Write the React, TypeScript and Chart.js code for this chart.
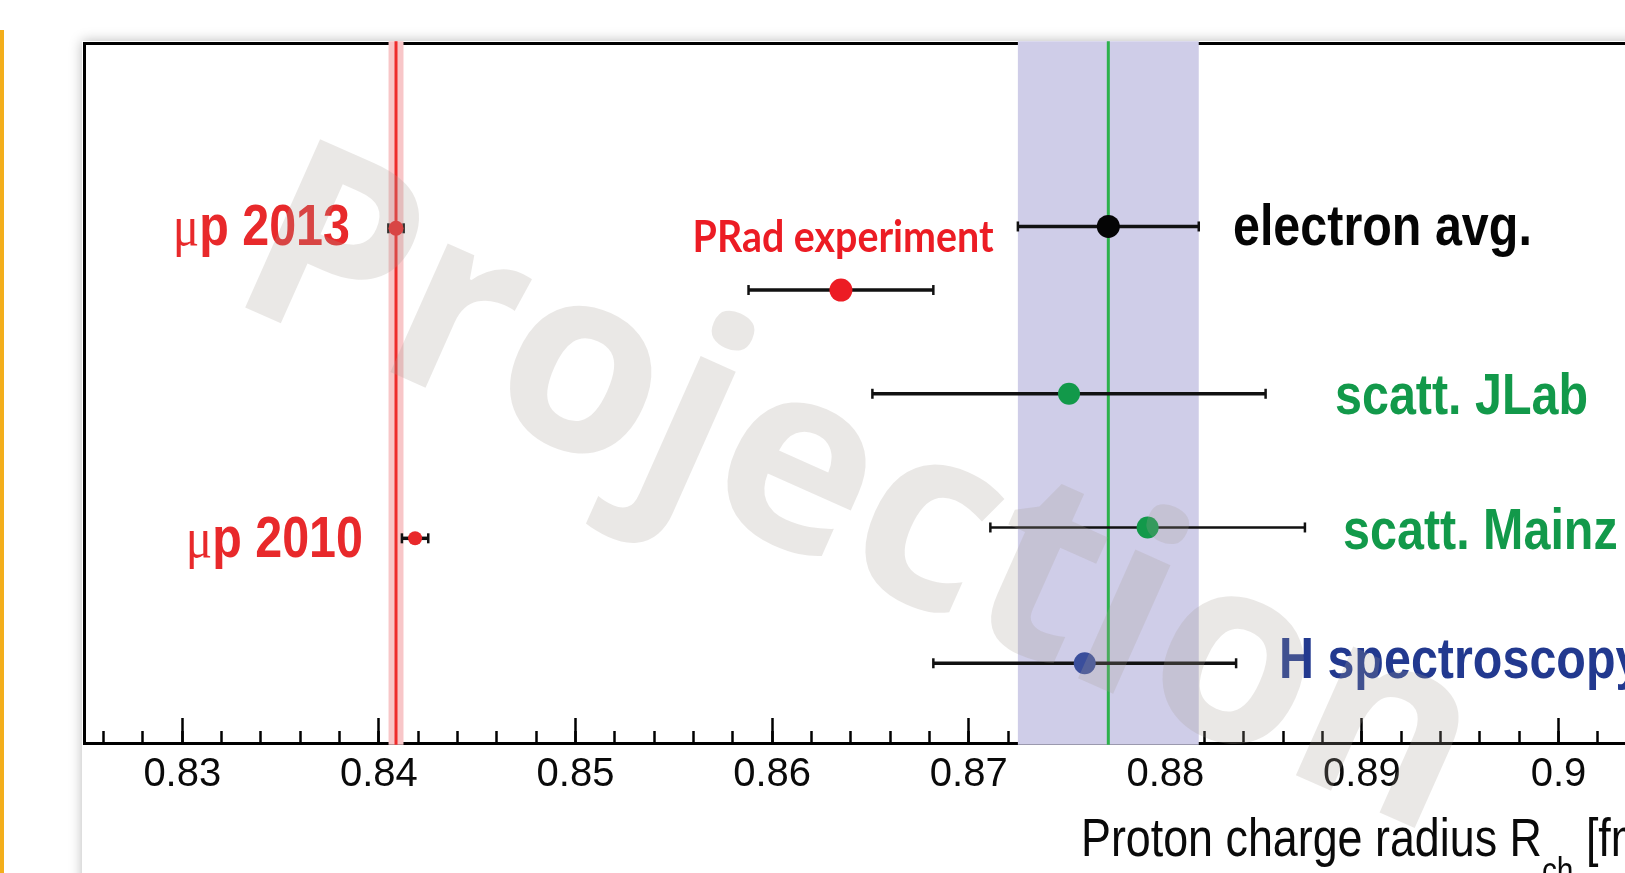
import React, { useEffect, useRef } from "react";
import { Chart, registerables } from "chart.js";

Chart.register(...registerables);

// ---------------- data ----------------
const measurementNames = [
  "μp 2013",
  "PRad experiment",
  "electron avg.",
  "scatt. JLab",
  "scatt. Mainz",
  "μp 2010",
  "H spectroscopy",
];
const radiusValues = [0.84087, 0.8635, 0.8771, 0.8751, 0.8791, 0.84184, 0.8759];
const radiusErrors = [0.00039, 0.0047, 0.0046, 0.01, 0.008, 0.00067, 0.0077];
const rowPositions = [73.53, 64.71, 73.79, 49.89, 30.79, 29.24, 11.39];

const bandNames = ["muonic hydrogen", "electron average"];
const bandCenters = [0.84087, 0.8771];
const bandHalfWidths = [0.00038, 0.0046];

const majorTickValues = [0.83, 0.84, 0.85, 0.86, 0.87, 0.88, 0.89, 0.9];
const majorTickLabels = ["0.83", "0.84", "0.85", "0.86", "0.87", "0.88", "0.89", "0.9"];
const minorTickStep = 0.002;
const axisRange = [0.825, 0.9075];
const rowRange = [0, 100];

const axisTitleParts = ["Proton charge radius R", "ch", " [fm]"];
const watermarkText = "Projection";

// ---------------- styles / layout ----------------
const pointColors = ["#e8292b", "#ec1c24", "#050505", "#12994a", "#12994a", "#e8292b", "#3a4e9c"];
const pointRadii = [7.5, 11.5, 11.5, 11, 11, 7, 11];
const errorBarWidths = [3.5, 3.5, 3.5, 3.5, 2.5, 3.5, 3.5];
const bandColors = ["#f8c6c8", "#cfcde8"];
const centerLineColors = ["#ee2b2b", "#2db14b"];
const labelColors = ["#e8292b", "#ec1c24", "#050505", "#12994a", "#12994a", "#e8292b", "#22398f"];

const labelAnchorX = [0.83853, 0.86361, 0.88344, 0.88863, 0.88904, 0.83919, 0.88578];
const labelAnchorY = [71.14, 70.14, 71.14, 47.0, 27.71, 26.57, 9.29];
const labelAlign = ["right", "center", "left", "left", "left", "right", "left"];
const BIG_FONT = "bold 57px 'Liberation Sans', Arial, sans-serif";
const MU_FONT = "58px 'Liberation Serif', 'Times New Roman', serif";
const labelFonts = [BIG_FONT, "bold 43px Lato, 'Noto Sans', sans-serif", BIG_FONT, BIG_FONT, BIG_FONT, BIG_FONT, BIG_FONT];
const labelFitWidths: (number | null)[] = [null, 301, null, null, null, null, null];
const TEXT_SCALE_X = 0.85;

const titleAnchorX = 0.87571;
const titleAnchorY = -16.14;

function hasFont(name: string): boolean {
  const c = document.createElement("canvas").getContext("2d");
  if (!c) return false;
  const s = "0.83 abcdefgMW";
  c.font = "40px monospace";
  const a = c.measureText(s).width;
  c.font = `40px '${name}', monospace`;
  const b = c.measureText(s).width;
  return Math.abs(a - b) > 0.5;
}

type Part = { text: string; font: string; dy?: number };

function drawParts(
  ctx: CanvasRenderingContext2D,
  parts: Part[],
  x: number,
  y: number,
  align: string,
  color: string,
  scaleX: number,
  fitWidth?: number | null
) {
  const raw = parts.map((p) => {
    ctx.font = p.font;
    return ctx.measureText(p.text).width;
  });
  const rawTotal = raw.reduce((a, b) => a + b, 0);
  const sx = fitWidth ? fitWidth / rawTotal : scaleX;
  const total = rawTotal * sx;
  let start = align === "left" ? x : align === "right" ? x - total : x - total / 2;
  parts.forEach((p, i) => {
    ctx.save();
    ctx.font = p.font;
    ctx.fillStyle = color;
    ctx.textAlign = "left";
    ctx.textBaseline = "alphabetic";
    ctx.translate(start, y + (p.dy || 0));
    ctx.scale(sx, 1);
    ctx.fillText(p.text, 0, 0);
    ctx.restore();
    start += raw[i] * sx;
  });
}

const annotationPlugin = {
  id: "chartAnnotations",
  afterDatasetsDraw(chart: any) {
    const ctx: CanvasRenderingContext2D = chart.ctx;
    const xs = chart.scales.x;
    const ys = chart.scales.y;
    measurementNames.forEach((name, i) => {
      const parts: Part[] = name.startsWith("μ")
        ? [
            { text: "μ", font: MU_FONT },
            { text: name.slice(1), font: labelFonts[i] },
          ]
        : [{ text: name, font: labelFonts[i] }];
      drawParts(
        ctx,
        parts,
        xs.getPixelForValue(labelAnchorX[i]),
        ys.getPixelForValue(labelAnchorY[i]),
        labelAlign[i],
        labelColors[i],
        TEXT_SCALE_X,
        labelFitWidths[i]
      );
    });
  },
  afterDraw(chart: any) {
    const ctx: CanvasRenderingContext2D = chart.ctx;
    const xs = chart.scales.x;
    const ys = chart.scales.y;
    const tx = xs.getPixelForValue(titleAnchorX);
    const ty = ys.getPixelForValue(titleAnchorY);
    drawParts(
      ctx,
      [
        { text: axisTitleParts[0], font: "54px 'Liberation Sans', Arial, sans-serif" },
        { text: axisTitleParts[1], font: "36px 'Liberation Sans', Arial, sans-serif", dy: 27 },
        { text: axisTitleParts[2], font: "54px 'Liberation Sans', Arial, sans-serif" },
      ],
      tx,
      ty,
      "left",
      "#0a0a0a",
      0.83
    );
    // watermark
    ctx.save();
    ctx.translate(224, 298);
    ctx.rotate((24 * Math.PI) / 180);
    ctx.font = "bold 258px 'Open Sans', 'Noto Sans', sans-serif";
    ctx.fillStyle = "rgba(168,160,150,0.24)";
    ctx.textAlign = "left";
    ctx.textBaseline = "alphabetic";
    ctx.fillText(watermarkText, 0, 0);
    ctx.restore();
  },
};

function buildConfig(): any {
  const narrow = hasFont("Liberation Sans Narrow");
  const tickFont = narrow
    ? { family: "'Liberation Sans Narrow'", size: 43, lineHeight: 1 }
    : { family: "'Liberation Sans', Arial, sans-serif", size: 40, lineHeight: 1 };

  const bandDatasets = bandCenters.map((c, i) => ({
    type: "line",
    label: bandNames[i] + " band",
    data: [
      { x: c, y: rowRange[0] - 0.25 },
      { x: c, y: rowRange[1] + 0.25 },
    ],
    borderColor: bandColors[i],
    borderWidth: (ctx: any) => {
      const s = ctx.chart.scales && ctx.chart.scales.x;
      if (!s) return 1;
      return Math.abs(s.getPixelForValue(c + bandHalfWidths[i]) - s.getPixelForValue(c - bandHalfWidths[i]));
    },
    borderCapStyle: "butt",
    pointRadius: 0,
    fill: false,
    clip: false,
    showLine: true,
    tension: 0,
    order: 4,
    xAxisID: "x",
    yAxisID: "y",
  }));

  const centerLineDatasets = bandCenters.map((c, i) => ({
    type: "line",
    label: bandNames[i] + " central value",
    data: [
      { x: c, y: rowRange[0] - 0.25 },
      { x: c, y: rowRange[1] + 0.25 },
    ],
    borderColor: centerLineColors[i],
    borderWidth: 3,
    borderCapStyle: "butt",
    pointRadius: 0,
    fill: false,
    clip: false,
    showLine: true,
    tension: 0,
    order: 3,
    xAxisID: "x",
    yAxisID: "y",
  }));

  const errorDatasets = measurementNames.map((name, i) => ({
    type: "line",
    label: name + " uncertainty",
    data: [
      { x: radiusValues[i] - radiusErrors[i], y: rowPositions[i] },
      { x: radiusValues[i] + radiusErrors[i], y: rowPositions[i] },
    ],
    borderColor: "#111111",
    borderWidth: errorBarWidths[i],
    showLine: true,
    fill: false,
    tension: 0,
    pointStyle: "line",
    pointRotation: 90,
    pointRadius: 5,
    pointBorderWidth: 2.5,
    pointBorderColor: "#111111",
    pointBackgroundColor: "#111111",
    order: 2,
    xAxisID: "x",
    yAxisID: "y",
  }));

  const pointDataset = {
    type: "scatter",
    label: "measurements",
    data: radiusValues.map((v, i) => ({ x: v, y: rowPositions[i] })),
    pointBackgroundColor: pointColors,
    pointBorderColor: pointColors,
    pointBorderWidth: 0,
    pointRadius: pointRadii,
    showLine: false,
    order: 1,
    xAxisID: "x",
    yAxisID: "y",
  };

  return {
    type: "scatter",
    data: { datasets: [...bandDatasets, ...centerLineDatasets, ...errorDatasets, pointDataset] },
    options: {
      animation: false,
      responsive: false,
      maintainAspectRatio: false,
      events: [],
      layout: { padding: { left: 84, top: 43, right: 24, bottom: 80 } },
      plugins: {
        legend: { display: false },
        tooltip: { enabled: false },
        title: { display: false },
      },
      scales: {
        x: {
          type: "linear",
          position: "bottom",
          min: axisRange[0],
          max: axisRange[1],
          afterBuildTicks: (scale: any) => {
            scale.ticks = majorTickValues.map((v) => ({ value: v }));
          },
          afterFit: (scale: any) => {
            scale.height = 50;
          },
          ticks: {
            autoSkip: false,
            maxRotation: 0,
            minRotation: 0,
            padding: 37,
            color: "#0a0a0a",
            font: tickFont,
            callback: (v: number) => {
              const i = majorTickValues.findIndex((t) => Math.abs(t - v) < 1e-9);
              return i >= 0 ? majorTickLabels[i] : "";
            },
          },
          grid: {
            display: true,
            drawOnChartArea: false,
            drawTicks: true,
            tickLength: -25,
            tickWidth: 2.5,
            tickColor: "#000",
          },
          border: { display: true, color: "#000", width: 3 },
        },
        xMinor: {
          type: "linear",
          position: { y: rowRange[0] },
          min: axisRange[0],
          max: axisRange[1],
          ticks: { display: false, stepSize: minorTickStep, includeBounds: false },
          grid: {
            display: true,
            drawOnChartArea: false,
            drawTicks: true,
            tickLength: -12,
            tickWidth: 2.5,
            tickColor: "#000",
          },
          border: { display: false },
        },
        xTop: {
          type: "linear",
          position: "top",
          min: axisRange[0],
          max: axisRange[1],
          ticks: { display: false },
          grid: { display: true, drawOnChartArea: false, drawTicks: false },
          border: { display: true, color: "#000", width: 3 },
        },
        y: {
          type: "linear",
          position: "left",
          min: rowRange[0],
          max: rowRange[1],
          ticks: { display: false },
          grid: { display: true, drawOnChartArea: false, drawTicks: false },
          border: { display: true, color: "#000", width: 3 },
        },
      },
    },
    plugins: [annotationPlugin],
  };
}

export default function App() {
  const ref = useRef<HTMLCanvasElement | null>(null);
  useEffect(() => {
    document.body.style.margin = "0";
    const canvas = ref.current;
    if (!canvas) return;
    const chart = new Chart(canvas, buildConfig());
    return () => chart.destroy();
  }, []);
  return (
    <div
      style={{
        position: "relative",
        width: 1625,
        height: 873,
        overflow: "hidden",
        background: "#ffffff",
      }}
    >
      <div
        style={{
          position: "absolute",
          left: 0,
          top: 30,
          width: 4,
          height: 843,
          background: "#f3ae1b",
        }}
      />
      <div
        style={{
          position: "absolute",
          left: 82,
          top: 41,
          width: 1700,
          height: 900,
          background: "#ffffff",
          boxShadow: "0 0 12px rgba(0,0,0,0.28)",
        }}
      />
      <canvas
        ref={ref}
        width={1730}
        height={873}
        style={{ position: "absolute", left: 0, top: 0, width: 1730, height: 873 }}
      />
    </div>
  );
}
